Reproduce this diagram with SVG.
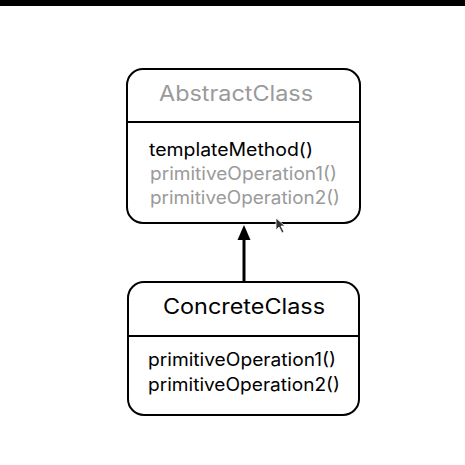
<svg xmlns="http://www.w3.org/2000/svg" width="465" height="465" viewBox="0 0 465 465">
<style>
.box{fill:#fff;stroke:#000;stroke-width:2}
.div{stroke:#000;stroke-width:2}
.t{font-family:Inter,"Noto Sans",sans-serif}
.title{font-size:21px}
.m{font-size:18px}
.g{fill:#9a9a9a}
.k{fill:#000}
</style>
<rect x="0" y="0" width="465" height="6" fill="#000"/>
<g id="connectors">
<line x1="244" y1="282" x2="244" y2="238" stroke="#000" stroke-width="3"/>
<polygon points="244,225 250.5,240 237.5,240" fill="#000"/>
</g>
<g id="AbstractClass">
<rect class="box" x="127" y="69" width="233" height="154" rx="16"/>
<line class="div" x1="127" y1="122" x2="360" y2="122"/>
<text class="t title g" x="159" y="101" textLength="154" lengthAdjust="spacingAndGlyphs">AbstractClass</text>
<text class="t m k" x="149" y="156" textLength="164" lengthAdjust="spacingAndGlyphs">templateMethod()</text>
<text class="t m g" x="150" y="180" textLength="187" lengthAdjust="spacingAndGlyphs">primitiveOperation1()</text>
<text class="t m g" x="150" y="204" textLength="190" lengthAdjust="spacingAndGlyphs">primitiveOperation2()</text>
</g>
<g id="ConcreteClass">
<rect class="box" x="128" y="282" width="231" height="133" rx="16"/>
<line class="div" x1="128" y1="336" x2="359" y2="336"/>
<text class="t title k" x="163" y="314" textLength="162" lengthAdjust="spacingAndGlyphs">ConcreteClass</text>
<text class="t m k" x="148" y="366" textLength="188" lengthAdjust="spacingAndGlyphs">primitiveOperation1()</text>
<text class="t m k" x="148" y="391" textLength="192" lengthAdjust="spacingAndGlyphs">primitiveOperation2()</text>
</g>
<polygon points="276,218 276,230 279,227 282,233 284,232 281,226 285,226" fill="#333" stroke="#fff" stroke-width="0.8"/>
</svg>
